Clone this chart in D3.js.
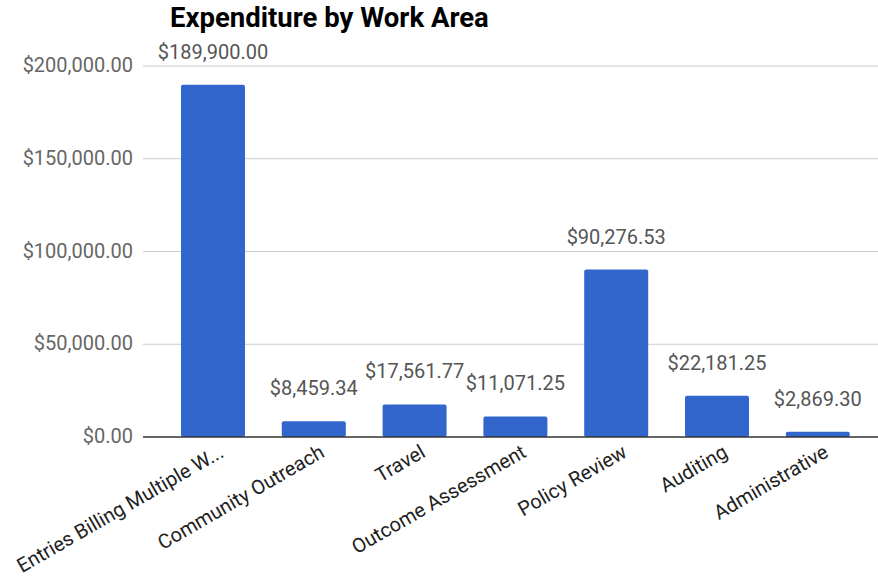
<!DOCTYPE html>
<html>
<head>
<meta charset="utf-8">
<script src="https://cdn.jsdelivr.net/npm/d3@7"></script>
<style>
  body { margin: 0; background: #fff; }
  text { font-family: Roboto, Arial, sans-serif; }
</style>
</head>
<body>
<div id="chart"></div>
<script>
const categories = ["Entries Billing Multiple W...", "Community Outreach", "Travel", "Outcome Assessment",
    "Policy Review", "Auditing", "Administrative"];
const values = [189900.00, 8459.34, 17561.77, 11071.25, 90276.53, 22181.25, 2869.30];
const y_ticks = [0, 50000, 100000, 150000, 200000];

const width = 878, height = 581;
const svg = d3.select("#chart").append("svg")
    .attr("width", width)
    .attr("height", height);

const scale_x = d3.scaleBand()
    .domain(categories)
    .range([162.6, 868.2])
    .paddingInner(0.365)
    .paddingOuter(0.1825);

const scale_y = d3.scaleLinear()
    .domain([0, 200000])
    .range([437, 66]);

const money = d3.format("$,.2f");

// gridlines
svg.append("g")
    .selectAll("line")
    .data(y_ticks.filter(d => d > 0))
    .join("line")
    .attr("x1", 143)
    .attr("x2", 878)
    .attr("y1", d => scale_y(d))
    .attr("y2", d => scale_y(d))
    .attr("stroke", "#cccccc")
    .attr("stroke-width", 1);

// y labels
svg.append("g")
    .selectAll("text")
    .data(y_ticks)
    .join("text")
    .attr("x", 133)
    .attr("y", d => scale_y(d) + 6)
    .attr("text-anchor", "end")
    .style("font-size", "20px")
    .attr("fill", "#666")
    .text(d => money(d));

// bars
svg.append("g")
    .selectAll("rect")
    .data(values)
    .join("rect")
    .attr("x", (d, i) => scale_x(categories[i]))
    .attr("y", d => scale_y(d))
    .attr("width", scale_x.bandwidth())
    .attr("height", d => scale_y(0) - scale_y(d))
    .attr("rx", 2)
    .attr("fill", "#3366cc");

// value labels
svg.append("g")
    .selectAll("text")
    .data(values)
    .join("text")
    .attr("x", (d, i) => scale_x(categories[i]) + scale_x.bandwidth() / 2)
    .attr("y", d => scale_y(d) - 26)
    .attr("text-anchor", "middle")
    .style("font-size", "20px")
    .attr("fill", "#555")
    .text(d => money(d));

// zero axis
svg.append("line")
    .attr("x1", 143)
    .attr("x2", 878)
    .attr("y1", scale_y(0))
    .attr("y2", scale_y(0))
    .attr("stroke", "#333")
    .attr("stroke-width", 1.5);

// x labels
svg.append("g")
    .selectAll("text")
    .data(categories)
    .join("text")
    .attr("transform", d => `translate(${scale_x(d) + scale_x.bandwidth() / 2 + 12}, 456) rotate(-30)`)
    .attr("text-anchor", "end")
    .style("font-size", "20px")
    .attr("fill", "#222")
    .text(d => d);

// title
svg.append("text")
    .attr("x", 170)
    .attr("y", 27)
    .style("font-size", "27.5px")
    .style("font-weight", "bold")
    .attr("fill", "#000")
    .text("Expenditure by Work Area");
</script>
</body>
</html>
